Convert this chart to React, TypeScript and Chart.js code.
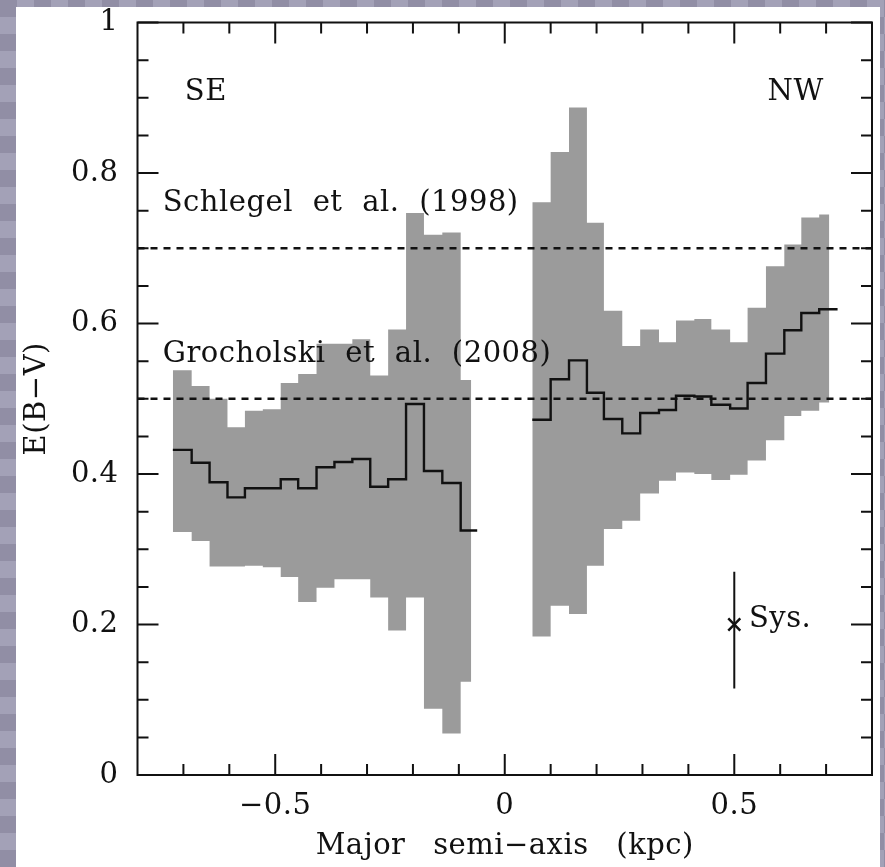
import React, { useEffect, useRef } from 'react';
import { Chart, registerables } from 'chart.js';

Chart.register(...registerables);

const FONT_FAMILY = '"DejaVu Serif", serif';
const FONT_SIZE = 29;

// ---- data (kpc along the major semi-axis, E(B-V)) ----
const leftEdges = [-0.723, -0.682, -0.643, -0.604, -0.566, -0.527, -0.488, -0.450, -0.410, -0.371, -0.332, -0.293, -0.254, -0.215, -0.176, -0.136, -0.096, -0.060];
const leftBandEdges = [-0.723, -0.682, -0.643, -0.604, -0.566, -0.527, -0.488, -0.450, -0.410, -0.371, -0.332, -0.293, -0.254, -0.215, -0.176, -0.136, -0.096, -0.073];
const leftMean = [0.432, 0.415, 0.389, 0.369, 0.381, 0.381, 0.393, 0.381, 0.409, 0.416, 0.420, 0.383, 0.393, 0.493, 0.404, 0.388, 0.325];
const leftUpper = [0.538, 0.517, 0.500, 0.462, 0.484, 0.486, 0.521, 0.533, 0.573, 0.573, 0.579, 0.531, 0.592, 0.747, 0.718, 0.721, 0.525];
const leftLower = [0.323, 0.311, 0.277, 0.277, 0.278, 0.276, 0.263, 0.230, 0.249, 0.260, 0.260, 0.236, 0.192, 0.236, 0.088, 0.055, 0.124];

const rightEdges = [0.060, 0.100, 0.140, 0.179, 0.216, 0.256, 0.295, 0.336, 0.373, 0.413, 0.450, 0.491, 0.529, 0.569, 0.609, 0.646, 0.685, 0.725];
const rightBandEdges = [0.060, 0.100, 0.140, 0.179, 0.216, 0.256, 0.295, 0.336, 0.373, 0.413, 0.450, 0.491, 0.529, 0.569, 0.609, 0.646, 0.685, 0.707];
const rightMean = [0.472, 0.526, 0.551, 0.508, 0.473, 0.454, 0.481, 0.485, 0.504, 0.503, 0.492, 0.487, 0.521, 0.560, 0.591, 0.614, 0.619];
const rightUpper = [0.761, 0.828, 0.887, 0.734, 0.617, 0.570, 0.592, 0.575, 0.604, 0.606, 0.592, 0.575, 0.621, 0.676, 0.705, 0.741, 0.745];
const rightLower = [0.184, 0.225, 0.214, 0.278, 0.327, 0.338, 0.374, 0.391, 0.402, 0.400, 0.392, 0.399, 0.418, 0.445, 0.477, 0.484, 0.495];

const referenceLevels = [0.7, 0.5]; // Schlegel et al. (1998), Grocholski et al. (2008)
const sysX = 0.5;
const sysY = 0.2;
const sysRange = [0.115, 0.27];

const xRange = [-0.8, 0.8];
const yRange = [0, 1];
const xMajorTicks = [-0.5, 0, 0.5];
const xMinorTicks = [-0.7, -0.6, -0.4, -0.3, -0.2, -0.1, 0.1, 0.2, 0.3, 0.4, 0.6, 0.7];
const yMajorTicks = [0, 0.2, 0.4, 0.6, 0.8, 1];
const yMinorTicks = [0.05, 0.1, 0.15, 0.25, 0.3, 0.35, 0.45, 0.5, 0.55, 0.65, 0.7, 0.75, 0.85, 0.9, 0.95];

const annotationTexts = ['SE', 'NW', 'Schlegel et al. (1998)', 'Grocholski et al. (2008)', 'Sys.'];
const annotationX = [-0.697, 0.695, -0.745, -0.745, 0.532];
const annotationY = [0.897, 0.897, 0.7495, 0.549, 0.197];
const annotationAlign = ['left', 'right', 'left', 'left', 'left'];

const BAND_COLOR = '#9b9b9b';
const INK = '#111111';

function steps(edges: number[], values: number[]) {
  const pts = values.map((v, i) => ({ x: edges[i], y: v }));
  pts.push({ x: edges[edges.length - 1], y: values[values.length - 1] });
  return pts;
}

function fmt(v: number) {
  const n = Math.round(v * 10) / 10;
  if (n === 0) return '0';
  return n < 0 ? '\u2212' + String(Math.abs(n)) : String(n);
}

const spacingPlugin = {
  id: 'spacing',
  beforeDraw(chart: any) {
    const ctx = chart.ctx as any;
    ctx.letterSpacing = '0.5px';
    ctx.wordSpacing = '18px';
  },
};

const framePlugin = {
  id: 'frame',
  afterDraw(chart: any) {
    const ctx = chart.ctx;
    const { left, right, top, bottom } = chart.chartArea;
    const xs = chart.scales.x;
    const ys = chart.scales.y;
    ctx.save();
    ctx.strokeStyle = INK;
    ctx.lineWidth = 2;
    ctx.lineCap = 'butt';
    ctx.beginPath();
    ctx.rect(left, top, right - left, bottom - top);
    ctx.stroke();
    ctx.beginPath();
    const major = 21;
    const minor = 11;
    const xTick = (vals: number[], len: number) => {
      vals.forEach((v) => {
        const px = xs.getPixelForValue(v);
        ctx.moveTo(px, bottom);
        ctx.lineTo(px, bottom - len);
        ctx.moveTo(px, top);
        ctx.lineTo(px, top + len);
      });
    };
    const yTick = (vals: number[], len: number) => {
      vals.forEach((v) => {
        const py = ys.getPixelForValue(v);
        ctx.moveTo(left, py);
        ctx.lineTo(left + len, py);
        ctx.moveTo(right, py);
        ctx.lineTo(right - len, py);
      });
    };
    xTick(xMajorTicks, major);
    xTick(xMinorTicks, minor);
    yTick(yMajorTicks, major);
    yTick(yMinorTicks, minor);
    ctx.stroke();
    ctx.restore();
  },
};

const textPlugin = {
  id: 'annotText',
  afterDatasetsDraw(chart: any) {
    const ctx = chart.ctx as any;
    const xs = chart.scales.x;
    const ys = chart.scales.y;
    ctx.save();
    ctx.font = `${FONT_SIZE}px ${FONT_FAMILY}`;
    ctx.letterSpacing = '0.5px';
    ctx.wordSpacing = '10px';
    ctx.fillStyle = INK;
    ctx.textBaseline = 'alphabetic';
    annotationTexts.forEach((t, i) => {
      ctx.textAlign = annotationAlign[i];
      ctx.fillText(t, xs.getPixelForValue(annotationX[i]), ys.getPixelForValue(annotationY[i]));
    });
    ctx.restore();
  },
};

export default function App() {
  const ref = useRef<HTMLCanvasElement>(null);

  useEffect(() => {
    if (!ref.current) return;
    const refDatasets = referenceLevels.map((lvl) => ({
      data: [{ x: xRange[0], y: lvl }, { x: xRange[1], y: lvl }],
      borderColor: INK,
      borderWidth: 2.6,
      borderDash: [7, 6],
      pointRadius: 0,
      fill: false,
    }));
    const chart = new Chart(ref.current, {
      type: 'line',
      data: {
        datasets: [
          ...refDatasets,
          {
            data: [{ x: sysX, y: sysY }],
            showLine: false,
            pointStyle: 'crossRot',
            pointRadius: 8.5,
            pointBorderWidth: 2.5,
            pointBorderColor: INK,
            borderColor: INK,
          },
          {
            data: [{ x: sysX, y: sysRange[0] }, { x: sysX, y: sysRange[1] }],
            borderColor: INK,
            borderWidth: 2,
            pointRadius: 0,
          },
          {
            data: steps(leftEdges, leftMean),
            stepped: true,
            borderColor: INK,
            borderWidth: 2.4,
            pointRadius: 0,
            fill: false,
          },
          {
            data: steps(rightEdges, rightMean),
            stepped: true,
            borderColor: INK,
            borderWidth: 2.4,
            pointRadius: 0,
            fill: false,
          },
          {
            data: steps(leftBandEdges, leftUpper),
            stepped: true,
            borderWidth: 0,
            borderColor: 'rgba(0,0,0,0)',
            backgroundColor: BAND_COLOR,
            pointRadius: 0,
            fill: '+1',
          },
          {
            data: steps(leftBandEdges, leftLower),
            stepped: true,
            borderWidth: 0,
            borderColor: 'rgba(0,0,0,0)',
            pointRadius: 0,
            fill: false,
          },
          {
            data: steps(rightBandEdges, rightUpper),
            stepped: true,
            borderWidth: 0,
            borderColor: 'rgba(0,0,0,0)',
            backgroundColor: BAND_COLOR,
            pointRadius: 0,
            fill: '+1',
          },
          {
            data: steps(rightBandEdges, rightLower),
            stepped: true,
            borderWidth: 0,
            borderColor: 'rgba(0,0,0,0)',
            pointRadius: 0,
            fill: false,
          },
        ] as any,
      },
      options: {
        animation: false,
        responsive: false,
        events: [],
        layout: { autoPadding: false, padding: { top: 15.5, right: 8, left: 0, bottom: 0 } },
        plugins: {
          legend: { display: false },
          tooltip: { enabled: false },
        },
        elements: { line: { tension: 0 } },
        scales: {
          x: {
            type: 'linear',
            min: xRange[0],
            max: xRange[1],
            grid: { display: false, drawTicks: false },
            border: { display: false },
            ticks: {
              stepSize: 0.5,
              includeBounds: false,
              autoSkip: false,
              maxRotation: 0,
              padding: 14,
              color: INK,
              font: { family: FONT_FAMILY, size: FONT_SIZE },
              callback: (v: any) => fmt(Number(v)),
            },
            title: {
              display: true,
              text: 'Major semi\u2212axis (kpc)',
              color: INK,
              font: { family: FONT_FAMILY, size: FONT_SIZE },
              padding: { top: 0, bottom: 3 },
            },
            afterFit: (s: any) => {
              s.height = 92;
              s.paddingLeft = 0;
              s.paddingRight = 0;
              s.paddingTop = 0;
              s.paddingBottom = 0;
            },
          },
          y: {
            type: 'linear',
            min: yRange[0],
            max: yRange[1],
            grid: { display: false, drawTicks: false },
            border: { display: false },
            ticks: {
              stepSize: 0.2,
              autoSkip: false,
              padding: 19,
              color: INK,
              font: { family: FONT_FAMILY, size: FONT_SIZE },
              callback: (v: any) => fmt(Number(v)),
            },
            title: {
              display: true,
              text: 'E(B\u2212V)',
              color: INK,
              font: { family: FONT_FAMILY, size: FONT_SIZE },
              padding: { top: 4, bottom: 0 },
            },
            afterFit: (s: any) => {
              s.width = 121.5;
              s.paddingLeft = 0;
              s.paddingRight = 0;
              s.paddingTop = 0;
              s.paddingBottom = 0;
            },
          },
        },
      } as any,
      plugins: [spacingPlugin, textPlugin, framePlugin],
    });
    return () => chart.destroy();
  }, []);

  return (
    <div
      style={{
        position: 'fixed',
        inset: 0,
        overflow: 'hidden',
        background:
          'repeating-conic-gradient(#a3a1b7 0% 25%, #918ea5 0% 50%) 0 0 / 34px 34px',
      }}
    >
      <div
        style={{
          position: 'absolute',
          left: 16,
          top: 7,
          width: 864,
          height: 860,
          background: '#ffffff',
        }}
      >
        <canvas ref={ref} width={864} height={860} style={{ display: 'block', width: 864, height: 860 }} />
      </div>
    </div>
  );
}
